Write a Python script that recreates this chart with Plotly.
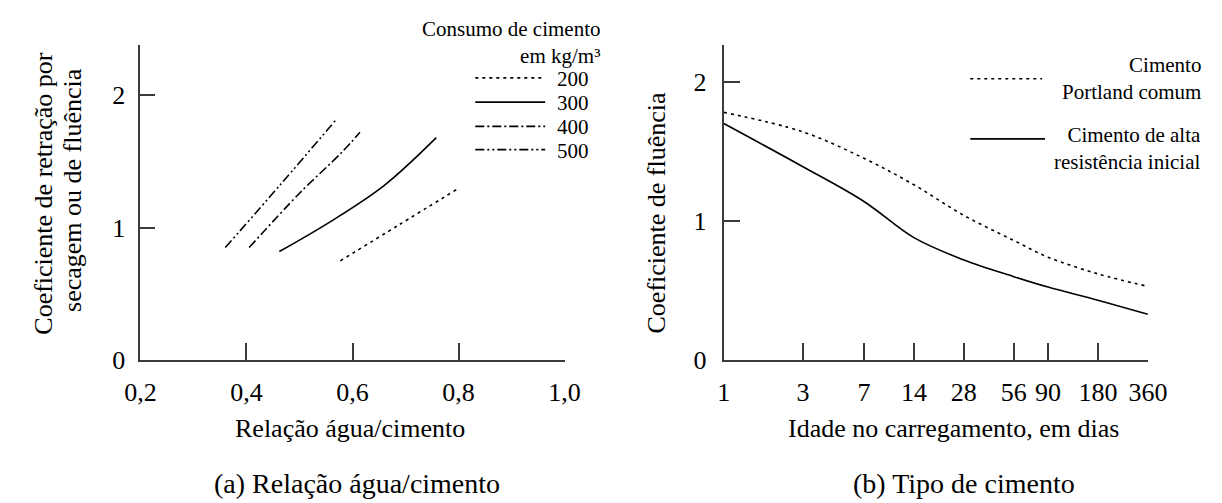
import math
import plotly.graph_objects as go

W, H = 1222, 503
FONT = "Liberation Serif, Times New Roman, Times, DejaVu Serif, serif"

# ---------------- Panel (a): water/cement ratio ----------------
wc_200 = [0.577, 0.687, 0.797]
cr_200 = [0.75, 1.02, 1.29]
wc_300 = [0.462, 0.56, 0.66, 0.758]
cr_300 = [0.82, 1.05, 1.32, 1.68]
wc_400 = [0.405, 0.50, 0.58, 0.614]
cr_400 = [0.85, 1.26, 1.57, 1.72]
wc_500 = [0.36, 0.465, 0.57]
cr_500 = [0.85, 1.33, 1.82]
cement_labels = ["200", "300", "400", "500"]

a_xticks = [0.2, 0.4, 0.6, 0.8, 1.0]
a_xticktext = ["0,2", "0,4", "0,6", "0,8", "1,0"]
a_yticks = [0, 1, 2]

# ---------------- Panel (b): cement type ----------------
age_days = [1, 3, 7, 14, 28, 56, 90, 180, 360]
creep_portland = [1.78, 1.64, 1.45, 1.26, 1.04, 0.86, 0.74, 0.62, 0.53]
creep_high_early = [1.70, 1.39, 1.14, 0.88, 0.72, 0.60, 0.525, 0.43, 0.33]
b_xticks = [1, 3, 7, 14, 28, 56, 90, 180, 360]
b_yticks = [0, 1, 2]

DOT = "3px,4px"
DASHDOT = "9px,3px,2px,3px"
DASHDOTDOT = "9px,3px,2px,3px,2px,3px"
styles = [DOT, "solid", DASHDOT, DASHDOTDOT]


def px(x):
    return x / W


def py(y):
    return 1 - y / H


fig = go.Figure()

series_a = [(wc_200, cr_200), (wc_300, cr_300), (wc_400, cr_400), (wc_500, cr_500)]
for (xs, ys), dash, lab in zip(series_a, styles, cement_labels):
    fig.add_trace(go.Scatter(x=xs, y=ys, mode="lines", name=lab,
                             line=dict(color="black", width=1.6, dash=dash, shape="spline"),
                             xaxis="x", yaxis="y", showlegend=False))

fig.add_trace(go.Scatter(x=age_days, y=creep_portland, mode="lines",
                         line=dict(color="black", width=1.6, dash=DOT, shape="spline"),
                         xaxis="x2", yaxis="y2", showlegend=False))
fig.add_trace(go.Scatter(x=age_days, y=creep_high_early, mode="lines",
                         line=dict(color="black", width=1.6, shape="spline"),
                         xaxis="x2", yaxis="y2", showlegend=False))

AX = "#3a3a3a"
tickfont = dict(family=FONT, size=26, color="black")
common = dict(showline=True, linecolor=AX, linewidth=2, ticks="inside",
              tickcolor=AX, tickwidth=1.6, showgrid=False, zeroline=False,
              tickfont=tickfont, fixedrange=True)

ydom = [(H - 363) / H, (H - 38) / H]

fig.update_layout(
    width=W, height=H, margin=dict(l=0, r=0, t=0, b=0),
    paper_bgcolor="white", plot_bgcolor="white",
    font=dict(family=FONT, color="black"),
    xaxis=dict(domain=[px(120), px(557)], range=[0.2, 1.0], tickmode="array",
               tickvals=a_xticks, ticktext=a_xticktext, ticklen=17,
               ticklabelstandoff=8, anchor="y", **common),
    yaxis=dict(domain=ydom, range=[0, 2.38], tickmode="array", tickvals=a_yticks,
               ticktext=[str(v) for v in a_yticks], ticklen=15,
               ticklabelstandoff=8, anchor="x", **common),
    xaxis2=dict(domain=[px(721), px(1158)], type="log",
                range=[0, math.log10(360)], tickmode="array", tickvals=b_xticks,
                ticktext=[str(v) for v in b_xticks], ticklen=17,
                ticklabelstandoff=8, anchor="y2", **common),
    yaxis2=dict(domain=ydom, range=[0, 2.265], tickmode="array", tickvals=b_yticks,
                ticktext=[str(v) for v in b_yticks], ticklen=16,
                ticklabelstandoff=10, anchor="x2", **common),
)

ann = []


def text(x, y, s, size, xanchor="center", angle=0, align="center"):
    ann.append(dict(x=px(x), y=py(y), xref="paper", yref="paper", text=s,
                    showarrow=False, xanchor=xanchor, yanchor="middle",
                    textangle=angle, align=align, borderpad=0,
                    font=dict(family=FONT, size=size, color="black")))


# axis titles
text(20, 191, "Coeficiente de retração por", 26, angle=-90)
text(50, 188, "secagem ou de fluência", 26, angle=-90)
text(652, 211, "Coeficiente de fluência", 26, angle=-90)
text(336, 433, "Relação água/cimento", 26)
text(958, 433, "Idade no carregamento, em dias", 26)
text(343, 490, "(a) Relação água/cimento", 28)
text(969, 490, "(b) Tipo de cimento", 28)

# legend (a)
text(594, 36, "Consumo de cimento<br>em kg/m³", 21, xanchor="right", align="right")
shapes = []
for i, (lab, dash) in enumerate(zip(cement_labels, styles)):
    yy = [72, 97, 122, 146][i]
    shapes.append(dict(type="line", xref="paper", yref="paper",
                       x0=px(465), x1=px(537), y0=py(yy), y1=py(yy),
                       line=dict(color="black", width=1.6, dash=dash)))
    text(548, yy + 1, lab, 21, xanchor="left")

# legend (b)
shapes.append(dict(type="line", xref="paper", yref="paper", x0=px(975), x1=px(1049),
                   y0=py(73), y1=py(73), line=dict(color="black", width=1.6, dash=DOT)))
shapes.append(dict(type="line", xref="paper", yref="paper", x0=px(975), x1=px(1052),
                   y0=py(135), y1=py(135), line=dict(color="black", width=1.8)))
text(1214, 73, "Cimento<br>Portland comum", 21, xanchor="right", align="right")
text(1214, 145, "Cimento de alta<br>resistência inicial", 21, xanchor="right", align="right")

fig.update_layout(annotations=ann, shapes=shapes)
fig.write_html("out.html")
